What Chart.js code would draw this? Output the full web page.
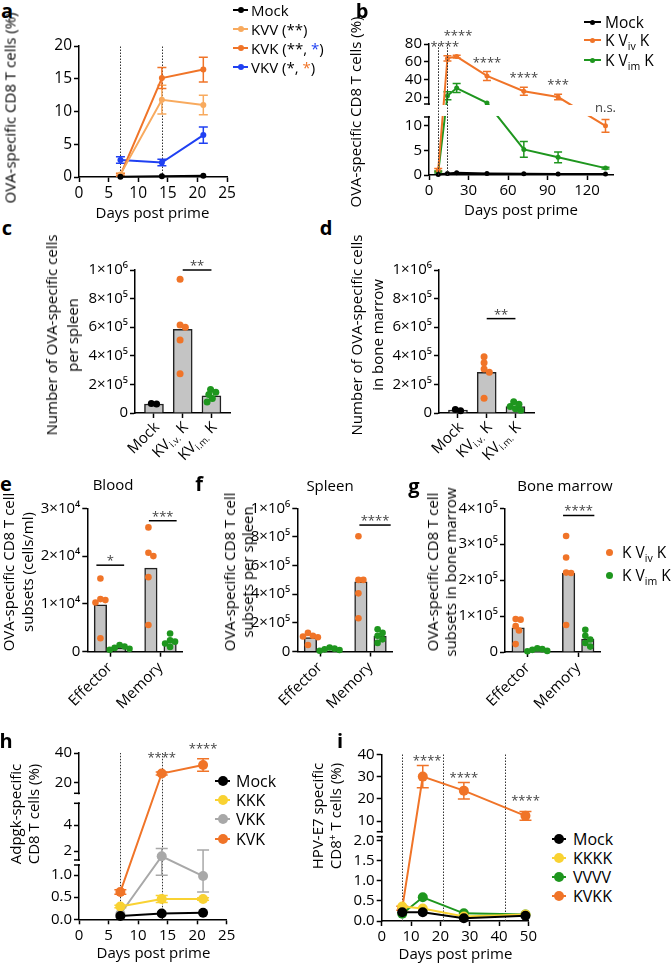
<!DOCTYPE html>
<html>
<head>
<meta charset="utf-8">
<script src="https://cdn.jsdelivr.net/npm/chart.js@4.4.1/dist/chart.umd.min.js"></script>
<style>
  body { margin: 0; background: #fff; font-family: 'Open Sans', sans-serif; }
  #fig { position: relative; width: 672px; height: 963px; overflow: hidden; background: #fff; }
  #fig canvas { position: absolute; }
  .t { position: absolute; white-space: nowrap; color: #000; }
  .t sub { font-size: 0.68em; vertical-align: -0.4em; line-height: 0; }
  .t sup { font-size: 0.68em; vertical-align: 0.5em; line-height: 0; }
  .mk { position: absolute; }
</style>
</head>
<body>
<div id="fig"></div>
<script>
// ---- panel a: OVA-specific CD8 T cells, heterologous schedules
const aDays = [7, 14, 21];
const aMock = [0.05, 0.1, 0.2];
const aKVV = [0.4, 11.8, 11.0];
const aKVVErr = [0.2, 2.2, 1.5];
const aKVK = [0.3, 15.1, 16.4];
const aKVKErr = [0.2, 1.6, 1.9];
const aVKV = [2.6, 2.2, 6.4];
const aVKVErr = [0.5, 0.5, 1.25];
const aXTicks = [0, 5, 10, 15, 20, 25];
const aYTicks = [0, 5, 10, 15, 20];

// ---- panel b: iv vs im boost
const bDays = [7, 14, 21, 44, 72, 98, 134];
const bMock = [0.1, 0.3, 0.45, 0.3, 0.25, 0.2, 0.2];
const bIv = [1.0, 64, 66, 44.5, 27.5, 21, 10];
const bIvErr = [0.3, 3, 1.5, 5, 4.5, 3, 1.3];
const bIm = [0.6, 22.5, 31, 14.5, 5.2, 3.6, 1.4];
const bImErr = [0.2, 4.5, 5, 0, 1.6, 1.1, 0.2];
const bXTicks = [0, 30, 60, 90, 120];
const bYTicks = [0, 5, 10, 20, 40, 60, 80];
const bSigDays = [12, 22, 44, 72, 98, 134];
const bSigText = ['****', '****', '****', '****', '***', 'n.s.'];

// ---- panels c, d: cells per organ
const cdCats = [['Mock'], ['KV', 'i.v.', ' K'], ['KV', 'i.m.', ' K']];
const cdYTicks = [0, 2e5, 4e5, 6e5, 8e5, 1e6];
const cdYLabels = ['0', '2×10⁵', '4×10⁵', '6×10⁵', '8×10⁵', '1×10⁶'];
const cBars = [0.63e5, 5.85e5, 1.2e5];
const cMock = [0.63e5, 0.66e5];
const cIv = [9.35e5, 6.15e5, 6.0e5, 5.1e5, 2.75e5];
const cIm = [1.64e5, 1.45e5, 1.29e5, 1.01e5, 0.77e5];
const dBars = [0.2e5, 2.85e5, 0.45e5];
const dMock = [0.15e5, 0.25e5];
const dIv = [3.94e5, 3.52e5, 3.08e5, 2.85e5, 1.03e5];
const dIm = [0.78e5, 0.62e5, 0.45e5, 0.3e5, 0.2e5];

// ---- panels e, f, g: effector / memory subsets
const subsets = ['Effector', 'Memory'];
const eIvBars = [0.98e4, 1.75e4];
const eImBars = [0.08e4, 0.22e4];
const eIv = [[1.53e4, 1.1e4, 1.08e4, 1.03e4, 0.28e4], [2.6e4, 2.07e4, 2.0e4, 1.56e4, 0.56e4]];
const eIm = [[0.14e4, 0.11e4, 0.08e4, 0.06e4, 0.04e4], [0.38e4, 0.24e4, 0.21e4, 0.17e4, 0.1e4]];
const eYTicks = [0, 1e4, 2e4, 3e4];
const eYLabels = ['0', '1×10⁴', '2×10⁴', '3×10⁴'];
const fIvBars = [0.97e5, 4.87e5];
const fImBars = [0.15e5, 1.08e5];
const fIv = [[1.3e5, 1.1e5, 1.05e5, 1.0e5, 0.45e5], [8.05e5, 5.0e5, 5.0e5, 4.06e5, 2.32e5]];
const fIm = [[0.28e5, 0.2e5, 0.15e5, 0.1e5, 0.05e5], [1.55e5, 1.3e5, 1.1e5, 0.85e5, 0.6e5]];
const fYTicks = [0, 2e5, 4e5, 6e5, 8e5, 1e6];
const fYLabels = cdYLabels;
const gIvBars = [0.67e5, 2.19e5];
const gImBars = [0.06e5, 0.36e5];
const gIv = [[0.92e5, 0.9e5, 0.72e5, 0.6e5, 0.22e5], [3.23e5, 2.63e5, 2.21e5, 2.2e5, 0.75e5]];
const gIm = [[0.1e5, 0.08e5, 0.06e5, 0.03e5, 0.02e5], [0.62e5, 0.45e5, 0.35e5, 0.25e5, 0.15e5]];
const gYTicks = [0, 1e5, 2e5, 3e5, 4e5];
const gYLabels = ['0', '1×10⁵', '2×10⁵', '3×10⁵', '4×10⁵'];

// ---- panel h: Adpgk
const hDays = [7, 14, 21];
const hMock = [0.075, 0.13, 0.15];
const hKKK = [0.29, 0.46, 0.46];
const hKKKErr = [0.03, 0.08, 0.03];
const hVKK = [0.12, 1.6, 0.98];
const hVKKErrLo = [0, 0.6, 0.36];
const hVKKErrHi = [0, 0.6, 1.1];
const hKVK = [0.62, 26, 31.8];
const hKVKErr = [0.05, 1, 4.2];
const hXTicks = [0, 5, 10, 15, 20, 25];
const hYTicks = [0, 0.5, 1, 2, 4, 20, 40];
const hYLabels = ['0.0', '0.5', '1.0', '2', '4', '20', '40'];

// ---- panel i: HPV-E7
const iDays = [7, 14, 28, 49];
const iMock = [0.22, 0.22, 0.07, 0.13];
const iKKKK = [0.36, 0.31, 0.11, 0.16];
const iVVVV = [0.18, 0.59, 0.19, 0.16];
const iKVKK = [0.32, 30, 23.7, 12.4];
const iKVKKErr = [0.05, 5, 3.7, 2.0];
const iXTicks = [0, 10, 20, 30, 40, 50];
const iYTicks = [0, 0.5, 1, 1.5, 2, 10, 20, 30, 40];
const iYLabels = ['0.0', '0.5', '1.0', '1.5', '2.0', '10', '20', '30', '40'];

const ORANGE = '#f07428', LIGHT = '#f8aa5e', BLUE = '#1f40f2', GREEN = '#1e961e';
const YELLOW = '#f9d232', GREY = '#a8a8a8', BAR = '#c4c4c4';
const FONT = "'Open Sans', sans-serif";

Chart.defaults.font.family = FONT;
Chart.defaults.color = '#000';

const fig = document.getElementById('fig');

// piecewise linear map used by the broken axes
function mapKnots(from, to, v) {
  let i = 1;
  while (i < from.length - 1 && v > from[i]) i++;
  const t = (v - from[i - 1]) / (from[i] - from[i - 1]);
  return to[i - 1] + t * (to[i] - to[i - 1]);
}

function brokenScale(id, vals, decs) {
  class Broken extends Chart.LinearScale {
    getPixelForValue(v) { return this.getPixelForDecimal(mapKnots(vals, decs, v)); }
    getValueForPixel(p) { return mapKnots(decs, vals, this.getDecimalForPixel(p)); }
  }
  Broken.id = id;
  Broken.defaults = {};
  Chart.register(Broken);
}
brokenScale('brokenB', [0, 11.8, 13.3, 80], [0, 0.443, 0.542, 1]);
brokenScale('brokenH', [0, 1.23, 1.31, 5.67, 12.5, 40], [0, 0.3265, 0.3566, 0.6975, 0.7577, 1]);
brokenScale('brokenI', [0, 2.1, 5.3, 40], [0, 0.5057, 0.5357, 1]);

function makeCanvas(area, pad) {
  const left = Math.round(area.x0 - pad.l), top = Math.round(area.y0 - pad.t);
  const right = Math.round(area.x1 + pad.r), bottom = Math.round(area.y1 + pad.b);
  const el = document.createElement('canvas');
  el.width = right - left;
  el.height = bottom - top;
  el.style.left = left + 'px';
  el.style.top = top + 'px';
  fig.appendChild(el);
  return { el, padL: area.x0 - left, padT: area.y0 - top, padR: right - area.x1, padB: bottom - area.y1 };
}

function axis(o) {
  return {
    type: o.type || 'linear',
    min: o.min, max: o.max,
    offset: false,
    afterBuildTicks: s => { s.ticks = o.ticks.map(v => ({ value: v })); },
    afterFit: s => { if (o.horizontal) s.height = o.size; else s.width = o.size; },
    grid: { display: true, offset: false, drawOnChartArea: false, drawTicks: true, tickLength: 5, tickWidth: 1.5, color: '#000', tickColor: '#000' },
    border: { display: true, color: '#000', width: 1.5 },
    ticks: {
      color: '#000', font: { size: o.fs }, padding: 2, autoSkip: false,
      maxRotation: o.rot || 0, minRotation: o.rot || 0,
      callback: (v, i) => o.labels ? o.labels[i] : String(v)
    }
  };
}

function baseOptions(cv, p) {
  return {
    responsive: false, animation: false, events: [],
    layout: { padding: { left: 0, top: cv.padT, right: cv.padR, bottom: 0 } },
    plugins: { legend: { display: false }, tooltip: { enabled: false } },
    scales: {
      x: axis({ min: p.xMin, max: p.xMax, ticks: p.xTicks, labels: p.xLabels, size: cv.padB, fs: p.fs, horizontal: true, rot: p.rot }),
      y: axis({ type: p.yType, min: 0, max: p.yMax, ticks: p.yTicks, labels: p.yLabels, size: cv.padL, fs: p.fs })
    }
  };
}

function drawVlines(ctx, ex, x, a) {
  if (!ex.vlines) return;
  ctx.save();
  ctx.strokeStyle = '#333';
  ctx.lineWidth = 1;
  ctx.setLineDash([1.5, 1.5]);
  ex.vlines.forEach(v => {
    const px = Math.round(x.getPixelForValue(v)) + 0.5;
    ctx.beginPath();
    ctx.moveTo(px, a.bottom);
    ctx.lineTo(px, a.top);
    ctx.stroke();
  });
  ctx.restore();
}

// dotted lines, error bars, axis breaks, significance marks, rich tick labels
function extras(ex) {
  return {
    id: 'extras',
    beforeDatasetsDraw(chart) {
      const { ctx, chartArea: a, scales: { x, y } } = chart;
      drawVlines(ctx, ex, x, a);
      ctx.save();
      chart.data.datasets.forEach((ds, i) => {
        if (!ds.errHi) return;
        const meta = chart.getDatasetMeta(i);
        ctx.strokeStyle = ds.borderColor;
        ctx.lineWidth = 1.5;
        ds.data.forEach((pt, j) => {
          const hi = ds.errHi[j], lo = ds.errLo ? ds.errLo[j] : hi;
          if (!hi && !lo) return;
          const px = meta.data[j].x;
          const top = y.getPixelForValue(pt.y + hi), bot = y.getPixelForValue(pt.y - lo);
          ctx.beginPath();
          ctx.moveTo(px, top); ctx.lineTo(px, bot);
          ctx.moveTo(px - ex.cap, top); ctx.lineTo(px + ex.cap, top);
          ctx.moveTo(px - ex.cap, bot); ctx.lineTo(px + ex.cap, bot);
          ctx.stroke();
        });
      });
      ctx.restore();
    },
    afterDatasetsDraw(chart) {
      const { ctx, chartArea: a, scales: { x, y } } = chart;
      ctx.save();
      (ex.breaks || []).forEach(([lo, hi]) => {
        const yTop = y.getPixelForValue(hi), yBot = y.getPixelForValue(lo);
        ctx.fillStyle = '#fff';
        ctx.fillRect(a.left - 3, yTop + 1, ex.cut ? a.right - a.left + 8 : 6, yBot - yTop - 2);
        ctx.strokeStyle = '#000';
        ctx.lineWidth = 1.5;
        [yTop, yBot].forEach(yy => {
          ctx.beginPath();
          ctx.moveTo(a.left - 5, yy);
          ctx.lineTo(a.left + 1, yy);
          ctx.stroke();
        });
      });
      if (ex.cut) drawVlines(ctx, ex, x, a);

      const fs = ex.sigFs || 13;
      ctx.font = fs + 'px ' + FONT;
      ctx.textAlign = 'center';
      ctx.textBaseline = 'alphabetic';
      (ex.sig || []).forEach(s => {
        const yy = y.getPixelForValue(s.y);
        ctx.fillStyle = '#444';
        if (s.x2 !== undefined) {
          const x1 = x.getPixelForValue(s.x), x2 = x.getPixelForValue(s.x2);
          ctx.strokeStyle = '#000';
          ctx.lineWidth = 1.5;
          ctx.beginPath();
          ctx.moveTo(x1, yy);
          ctx.lineTo(x2, yy);
          ctx.stroke();
          ctx.fillText(s.text, (x1 + x2) / 2, yy);
        } else {
          const k = s.text[0] === '*' ? 0.55 : 0.27;
          ctx.fillText(s.text, x.getPixelForValue(s.x), yy + k * fs);
        }
      });

      if (ex.richX) {
        const rfs = ex.richX.fs;
        ex.richX.labels.forEach((parts, i) => {
          const px = x.getPixelForValue(i);
          ctx.save();
          ctx.translate(px + 3, a.bottom + 12);
          ctx.rotate(-Math.PI / 4);
          const fonts = parts.map((t, k) => (k === 1 ? rfs * 0.62 : rfs) + 'px ' + FONT);
          let w = 0;
          parts.forEach((t, k) => { ctx.font = fonts[k]; w += ctx.measureText(t).width; });
          let cx = -w;
          ctx.textAlign = 'left';
          ctx.textBaseline = 'middle';
          ctx.fillStyle = '#000';
          parts.forEach((t, k) => {
            ctx.font = fonts[k];
            ctx.fillText(t, cx, k === 1 ? rfs * 0.3 : 0);
            cx += ctx.measureText(t).width;
          });
          ctx.restore();
        });
      }
      ctx.restore();
    }
  };
}

function linePanel(p) {
  const cv = makeCanvas(p.area, p.pad);
  return new Chart(cv.el, {
    type: 'line',
    data: {
      datasets: p.series.map(s => ({
        data: p.days.map((d, i) => ({ x: d, y: s.y[i] })),
        borderColor: s.color, backgroundColor: s.color,
        pointRadius: p.r, pointBorderWidth: 0, borderWidth: p.lw,
        tension: 0, clip: false,
        errHi: s.err, errLo: s.errLo
      }))
    },
    options: baseOptions(cv, p),
    plugins: [extras(p.ex)]
  });
}

// simple beeswarm: each dot takes the nearest free slot, then the group is re-centred
function swarm(vals, pxPerY, r) {
  const order = vals.map((v, i) => i).sort((m, n) => vals[n] - vals[m]);
  const placed = [];
  const off = new Array(vals.length).fill(0);
  order.forEach(idx => {
    const py = vals[idx] * pxPerY;
    for (let k = 0; k < 60; k++) {
      const dx = (k % 2 ? 1 : -1) * Math.ceil(k / 2) * r * 0.5;
      if (placed.every(([qx, qy]) => Math.hypot(qx - dx, qy - py) >= 1.5 * r)) {
        placed.push([dx, py]);
        off[idx] = dx;
        break;
      }
    }
  });
  const mid = (Math.min(...off) + Math.max(...off)) / 2;
  return off.map(o => o - mid);
}

function barPanel(p) {
  const cv = makeCanvas(p.area, p.pad);
  const pxX = (p.area.x1 - p.area.x0) / (p.xMax - p.xMin);
  const pxY = (p.area.y1 - p.area.y0) / p.yMax;
  const datasets = [{
    type: 'bar',
    data: p.bars.map(b => ({ x: b[0], y: b[1] })),
    backgroundColor: BAR, borderColor: '#222', borderWidth: 1.5,
    grouped: false, categoryPercentage: 1, barPercentage: 1, maxBarThickness: p.barW,
    order: 2
  }];
  p.dots.forEach(d => {
    const off = swarm(d.vals, pxY, p.r);
    datasets.push({
      type: 'scatter',
      data: d.vals.map((v, k) => ({ x: d.x + off[k] / pxX, y: v })),
      backgroundColor: d.color, pointRadius: p.r, pointBorderWidth: 0,
      clip: false, order: 1
    });
  });
  return new Chart(cv.el, {
    type: 'bar',
    data: { datasets },
    options: baseOptions(cv, p),
    plugins: [extras(p.ex)]
  });
}

// html text helpers
function text(html, x, y, o = {}) {
  const d = document.createElement('div');
  d.className = 't';
  d.innerHTML = html;
  const fs = o.fs || 15;
  d.style.fontSize = fs + 'px';
  d.style.lineHeight = (o.lh || Math.round(fs * 1.25)) + 'px';
  d.style.left = x + 'px';
  d.style.top = y + 'px';
  d.style.textAlign = 'center';
  if (o.bold) d.style.fontWeight = 'bold';
  if (o.left) d.style.transform = 'translate(0,-50%)';
  else d.style.transform = 'translate(-50%,-50%)' + (o.rot ? ' rotate(-90deg)' : '');
  fig.appendChild(d);
}

function box(x, y, w, h, color, round) {
  const d = document.createElement('div');
  d.className = 'mk';
  d.style.left = x + 'px';
  d.style.top = y + 'px';
  d.style.width = w + 'px';
  d.style.height = h + 'px';
  d.style.background = color;
  if (round) d.style.borderRadius = '50%';
  fig.appendChild(d);
}

function legend(items, o) {
  items.forEach((it, i) => {
    const y = o.ys[i];
    if (o.lx0 !== undefined) box(o.lx0, y - 1, o.lx1 - o.lx0, 2, it.color);
    box(o.dot - o.r, y - o.r, o.r * 2, o.r * 2, it.color, true);
    text(it.label, o.tx, y, { fs: o.fs, left: true });
  });
}

// ---------- a
linePanel({
  area: { x0: 79, x1: 227, y0: 46, y1: 177 }, pad: { l: 79, t: 14, r: 16, b: 30 },
  days: aDays, xMin: 0, xMax: 25, xTicks: aXTicks, yMax: 20, yTicks: aYTicks, fs: 15.5, r: 3, lw: 2,
  series: [
    { y: aMock, color: '#000' },
    { y: aKVV, err: aKVVErr, color: LIGHT },
    { y: aKVK, err: aKVKErr, color: ORANGE },
    { y: aVKV, err: aVKVErr, color: BLUE }
  ],
  ex: { vlines: [7, 14], cap: 4.5 }
});

// ---------- b
linePanel({
  area: { x0: 429, x1: 613.4, y0: 44, y1: 175 }, pad: { l: 70, t: 26, r: 20, b: 30 },
  days: bDays, xMin: 0, xMax: 140, xTicks: bXTicks, yType: 'brokenB', yMax: 80, yTicks: bYTicks, fs: 15, r: 2.5, lw: 2,
  series: [
    { y: bMock, color: '#000' },
    { y: bIv, err: bIvErr, color: ORANGE },
    { y: bIm, err: bImErr, color: GREEN }
  ],
  ex: {
    vlines: [7, 14], cap: 4, breaks: [[11.8, 13.3]], cut: true, sigFs: 13,
    sig: bSigDays.map((d, i) => ({ x: d, y: [80, 92, 62, 45.5, 38, 12.8][i], text: bSigText[i] }))
  }
});

// ---------- c, d
[
  { x0: 135, bars: cBars, mock: cMock, iv: cIv, im: cIm, sigY: 1e6 },
  { x0: 439, bars: dBars, mock: dMock, iv: dIv, im: dIm, sigY: 6.6e5 }
].forEach(q => {
  barPanel({
    area: { x0: q.x0, x1: q.x0 + 95.7, y0: 270, y1: 413 }, pad: { l: 60, t: 14, r: 8, b: 60 },
    xMin: -0.66, xMax: 2.67, xTicks: [0, 1, 2], xLabels: ['', '', ''],
    yMax: 1e6, yTicks: cdYTicks, yLabels: cdYLabels, fs: 15, r: 3.5, barW: 19,
    bars: q.bars.map((v, i) => [i, v]),
    dots: [{ x: 0, vals: q.mock, color: '#000' }, { x: 1, vals: q.iv, color: ORANGE }, { x: 2, vals: q.im, color: GREEN }],
    ex: { sig: [{ x: 1, x2: 2, y: q.sigY, text: '**' }], sigFs: 13, richX: { labels: cdCats, fs: 15 } }
  });
});

// ---------- e, f, g
[
  { x0: 87.3, y1: 651.7, ivBars: eIvBars, imBars: eImBars, iv: eIv, im: eIm, yMax: 3e4, yTicks: eYTicks, yLabels: eYLabels,
    sig: [{ x: -0.27, x2: 0.28, y: 1.81e4, text: '*' }, { x: 0.77, x2: 1.32, y: 2.74e4, text: '***' }] },
  { x0: 297.3, y1: 651.5, ivBars: fIvBars, imBars: fImBars, iv: fIv, im: fIm, yMax: 1e6, yTicks: fYTicks, yLabels: fYLabels,
    sig: [{ x: 0.78, x2: 1.4, y: 8.83e5, text: '****' }] },
  { x0: 505, y1: 652, ivBars: gIvBars, imBars: gImBars, iv: gIv, im: gIm, yMax: 4e5, yTicks: gYTicks, yLabels: gYLabels,
    sig: [{ x: 0.7, x2: 1.32, y: 3.8e5, text: '****' }] }
].forEach(q => {
  const bars = [], dots = [];
  subsets.forEach((s, g) => {
    bars.push([g - 0.19, q.ivBars[g]], [g + 0.19, q.imBars[g]]);
    dots.push({ x: g - 0.19, vals: q.iv[g], color: ORANGE }, { x: g + 0.19, vals: q.im[g], color: GREEN });
  });
  barPanel({
    area: { x0: q.x0, x1: q.x0 + 95.4, y0: 508.3, y1: q.y1 }, pad: { l: 58, t: 14, r: 8, b: 60 },
    xMin: -0.45, xMax: 1.44, xTicks: [0, 1], xLabels: subsets, rot: 45,
    yMax: q.yMax, yTicks: q.yTicks, yLabels: q.yLabels, fs: 15, r: 3.3, barW: 12.5,
    bars, dots,
    ex: { sig: q.sig, sigFs: 13 }
  });
});

// ---------- h
linePanel({
  area: { x0: 79, x1: 226.7, y0: 753, y1: 919.3 }, pad: { l: 79, t: 20, r: 16, b: 25 },
  days: hDays, xMin: 0, xMax: 25, xTicks: hXTicks, yType: 'brokenH', yMax: 40, yTicks: hYTicks, yLabels: hYLabels, fs: 15, r: 5, lw: 2,
  series: [
    { y: hMock, color: '#000' },
    { y: hKKK, err: hKKKErr, color: YELLOW },
    { y: hVKK, err: hVKKErrHi, errLo: hVKKErrLo, color: GREY },
    { y: hKVK, err: hKVKErr, color: ORANGE }
  ],
  ex: {
    vlines: [7, 14], cap: 6, breaks: [[1.23, 1.31], [5.67, 12.5]], sigFs: 13,
    sig: [{ x: 14, y: 38.6, text: '****' }, { x: 21, y: 44.8, text: '****' }]
  }
});

// ---------- i
linePanel({
  area: { x0: 381.7, x1: 528.4, y0: 754.3, y1: 921 }, pad: { l: 70, t: 16, r: 16, b: 25 },
  days: iDays, xMin: 0, xMax: 50, xTicks: iXTicks, yType: 'brokenI', yMax: 40, yTicks: iYTicks, yLabels: iYLabels, fs: 15, r: 5, lw: 2,
  series: [
    { y: iMock, color: '#000' },
    { y: iKKKK, color: YELLOW },
    { y: iVVVV, color: GREEN },
    { y: iKVKK, err: iKVKKErr, color: ORANGE }
  ],
  ex: {
    vlines: [7, 21, 42], cap: 6, breaks: [[2.1, 5.3]], sigFs: 13,
    sig: [{ x: 15.5, y: 38.2, text: '****' }, { x: 28, y: 30.6, text: '****' }, { x: 49, y: 20.6, text: '****' }]
  }
});

// ---------- panel letters
[['a', 7, 10], ['b', 362, 10], ['c', 7, 227], ['d', 326, 227], ['e', 6, 483],
 ['f', 199, 483], ['g', 414, 485], ['h', 6, 740], ['i', 340, 740]]
  .forEach(([l, x, y]) => text(l, x, y, { fs: 20, bold: true }));

// ---------- axis titles
const days = 'Days post prime';
text(days, 152.5, 212);
text(days, 521, 209);
text(days, 153.5, 951.5);
text(days, 455.5, 953);
text('OVA-specific CD8 T cells (%)', 10, 108, { rot: true });
text('OVA-specific CD8 T cells (%)', 355, 112, { rot: true });
text('Number of OVA-specific cells<br>per spleen', 61.5, 335, { rot: true, lh: 21 });
text('Number of OVA-specific cells<br>in bone marrow', 366.5, 335, { rot: true, lh: 21 });
text('OVA-specific CD8 T cell<br>subsets (cells/ml)', 18, 572, { rot: true, lh: 19 });
text('OVA-specific CD8 T cell<br>subsets per spleen', 237.5, 572, { rot: true, lh: 18 });
text('OVA-specific CD8 T cell<br>subsets in bone marrow', 441, 572, { rot: true, lh: 18 });
text('Adpgk-specific<br>CD8 T cells (%)', 24, 814, { rot: true, lh: 18 });
text('HPV-E7 specific<br>CD8<sup>+</sup> T cells (%)', 326, 816, { rot: true, lh: 18 });
text('Blood', 113, 484);
text('Spleen', 330, 485);
text('Bone marrow', 565, 485);

// ---------- legends
legend([
  { label: 'Mock', color: '#000' },
  { label: 'KVV (**)', color: LIGHT },
  { label: 'KVK (**, <span style="color:' + BLUE + '">*</span>)', color: ORANGE },
  { label: 'VKV (*, <span style="color:' + ORANGE + '">*</span>)', color: BLUE }
], { ys: [10, 29, 48, 67], lx0: 233, lx1: 248, dot: 240.5, r: 3, tx: 251, fs: 15 });

legend([
  { label: 'Mock', color: '#000' },
  { label: 'K V<sub>iv</sub> K', color: ORANGE },
  { label: 'K V<sub>im</sub> K', color: GREEN }
], { ys: [22, 40, 60], lx0: 584, lx1: 601, dot: 592.5, r: 2.5, tx: 605, fs: 15.5 });

legend([
  { label: 'K V<sub>iv</sub> K', color: ORANGE },
  { label: 'K V<sub>im</sub> K', color: GREEN }
], { ys: [552, 575], dot: 609, r: 3.5, tx: 622, fs: 15.5 });

legend([
  { label: 'Mock', color: '#000' },
  { label: 'KKK', color: YELLOW },
  { label: 'VKK', color: GREY },
  { label: 'KVK', color: ORANGE }
], { ys: [780.7, 799.5, 819.3, 838.5], lx0: 215, lx1: 230, dot: 222.5, r: 5, tx: 236, fs: 16 });

legend([
  { label: 'Mock', color: '#000' },
  { label: 'KKKK', color: YELLOW },
  { label: 'VVVV', color: GREEN },
  { label: 'KVKK', color: ORANGE }
], { ys: [839.3, 858, 877, 895.7], lx0: 552, lx1: 566, dot: 559, r: 5, tx: 573, fs: 16 });
</script>
</body>
</html>
